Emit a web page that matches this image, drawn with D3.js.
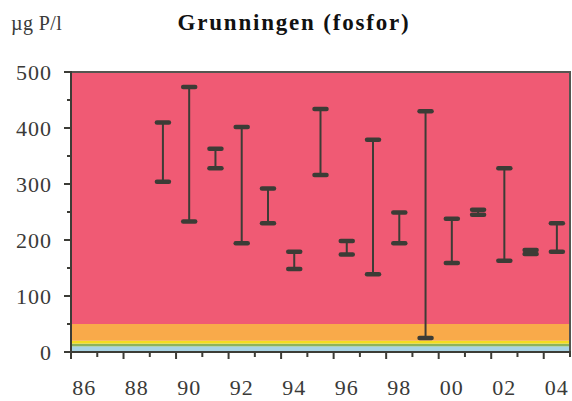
<!DOCTYPE html>
<html><head><meta charset="utf-8">
<script src="https://cdn.jsdelivr.net/npm/d3@7"></script>
<style>body{margin:0;background:#fff}svg{display:block}
text{font-family:"Liberation Serif","Times New Roman",Times,"DejaVu Serif",serif;}
</style>
</head><body>
<svg id="c" width="572" height="401"></svg>
<script>
const years = ["86","87","88","89","90","91","92","93","94","95","96","97","98","99","00","01","02","03","04"];
const barYears = ["89","90","91","92","93","94","95","96","97","98","99","00","01","02","03","04"];
const minVals = [304,233,328,194,230,148,316,174,139,194,25,159,245,163,175,179];
const maxVals = [410,473,363,402,292,179,434,198,379,249,430,238,254,328,182,230];
const bandLimits = [0,10,15,20,50,500];
const bandColors = ["#a8d4e4","#8db35a","#f4dc1f","#f9aa4a","#f05a74"];
const yTicks = [0,100,200,300,400,500];
const yMinor = [50,150,250,350,450];
const xLabels = ["86","88","90","92","94","96","98","00","02","04"];

const svg = d3.select("#c");
const L=71, R=570, T=72, B=352;
const x = d3.scaleBand().domain(years).range([L,R]);
const y = d3.scaleLinear().domain([0,500]).range([B,T]);
const dark = "#3c3c36";

const bands = d3.range(bandColors.length).map(i=>({lo:bandLimits[i],hi:bandLimits[i+1],c:bandColors[i]}));
svg.selectAll("rect.band").data(bands).enter().append("rect")
  .attr("x",L).attr("width",R-L)
  .attr("y",d=>y(d.hi)).attr("height",d=>y(d.lo)-y(d.hi))
  .attr("fill",d=>d.c);

svg.append("path").attr("d",`M${L},${T}H${R}V${B}`).attr("fill","none")
  .attr("stroke","#555550").attr("stroke-width",2);

const bars = barYears.map((yr,i)=>({yr,lo:minVals[i],hi:maxVals[i]}));
const g = svg.append("g");
const cx = d=>x(d.yr)+x.bandwidth()/2;
g.selectAll("line.v").data(bars).enter().append("line")
  .attr("x1",cx).attr("x2",cx).attr("y1",d=>y(d.hi)).attr("y2",d=>y(d.lo))
  .attr("stroke",dark).attr("stroke-width",2);
["lo","hi"].forEach(k=>{
  g.selectAll("line.c"+k).data(bars).enter().append("line")
    .attr("x1",d=>cx(d)-6).attr("x2",d=>cx(d)+6)
    .attr("y1",d=>y(d[k])).attr("y2",d=>y(d[k]))
    .attr("stroke",dark).attr("stroke-width",4.5).attr("stroke-linecap","round");
});

svg.append("line").attr("x1",L).attr("x2",L).attr("y1",T-1).attr("y2",B+1)
  .attr("stroke",dark).attr("stroke-width",2);
svg.selectAll("line.ytm").data(yTicks).enter().append("line")
  .attr("x1",L-7).attr("x2",L).attr("y1",d=>y(d)).attr("y2",d=>y(d))
  .attr("stroke",dark).attr("stroke-width",2);
svg.selectAll("line.ytn").data(yMinor).enter().append("line")
  .attr("x1",L-4).attr("x2",L).attr("y1",d=>y(d)).attr("y2",d=>y(d))
  .attr("stroke",dark).attr("stroke-width",2);
svg.selectAll("text.yl").data(yTicks).enter().append("text")
  .attr("x",52).attr("y",d=>y(d)+7.5).attr("text-anchor","end")
  .attr("font-size",22).attr("fill","#3a3a38")
  .attr("letter-spacing",1).text(d=>d);

svg.append("line").attr("x1",L-7).attr("x2",R+1).attr("y1",B).attr("y2",B)
  .attr("stroke",dark).attr("stroke-width",2.2);
const bounds = d3.range(years.length+1);
svg.selectAll("line.xt").data(bounds).enter().append("line")
  .attr("x1",k=>L+k*x.step()).attr("x2",k=>L+k*x.step())
  .attr("y1",B).attr("y2",k=>B+(k%2===0?7:5))
  .attr("stroke",dark).attr("stroke-width",2);
svg.selectAll("text.xl").data(xLabels).enter().append("text")
  .attr("x",d=>x(d)+x.bandwidth()/2).attr("y",395).attr("text-anchor","middle")
  .attr("font-size",22).attr("fill","#3a3a38")
  .attr("letter-spacing",1).text(d=>d);

svg.append("text").attr("x",294).attr("y",30).attr("text-anchor","middle")
  .attr("font-size",23).attr("font-weight","bold")
  .attr("fill","#111").attr("letter-spacing",1.8).text("Grunningen (fosfor)");
svg.append("text").attr("x",11).attr("y",30)
  .attr("font-size",20).attr("fill","#3a3a38").attr("letter-spacing",0.4)
  .text("µg P/l");
</script>
</body></html>
